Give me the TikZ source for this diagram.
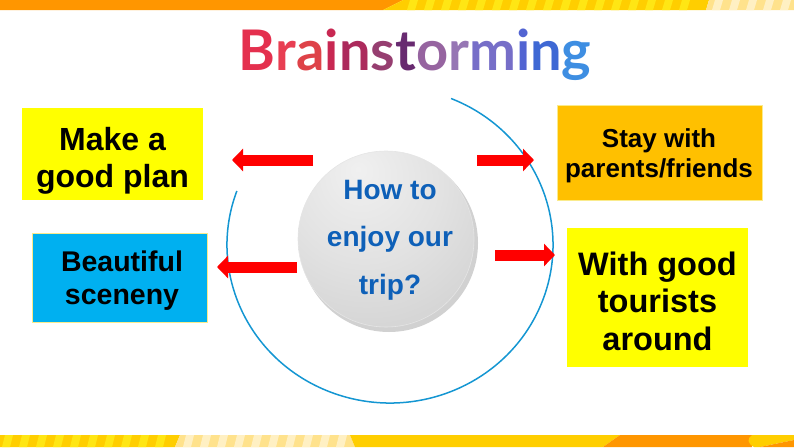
\documentclass[tikz,border=0pt]{standalone}
\usepackage{fontspec}
\setmainfont{Liberation Sans}
\newfontfamily\titlefont{Lato}
\usetikzlibrary{arrows.meta}
\definecolor{orgbar}{RGB}{255,150,0}
\definecolor{ylwbar}{RGB}{255,206,0}
\definecolor{ylwlt}{RGB}{255,230,20}
\definecolor{palebar}{RGB}{255,226,140}
\definecolor{palelt}{RGB}{255,240,195}
\definecolor{ringblue}{RGB}{20,150,210}
\definecolor{hubblue}{RGB}{14,96,184}
\definecolor{boxyellow}{RGB}{255,255,0}
\definecolor{boxblue}{RGB}{0,176,240}
\definecolor{boxorange}{RGB}{255,192,0}
\definecolor{boxedge}{RGB}{250,235,140}
\definecolor{arrred}{RGB}{255,0,0}
\definecolor{sphA}{RGB}{240,240,240}
\definecolor{sphB}{RGB}{226,226,226}
\definecolor{sphC}{RGB}{200,200,200}
\definecolor{sphD}{RGB}{172,172,172}
\definecolor{tA}{RGB}{228,48,78}
\definecolor{tB}{RGB}{232,62,82}
\definecolor{tC}{RGB}{222,66,72}
\definecolor{tD}{RGB}{200,40,82}
\definecolor{tE}{RGB}{172,42,92}
\definecolor{tF}{RGB}{150,62,112}
\definecolor{tG}{RGB}{104,42,112}
\definecolor{tH}{RGB}{150,100,160}
\definecolor{tI}{RGB}{150,118,180}
\definecolor{tJ}{RGB}{118,110,200}
\definecolor{tK}{RGB}{82,100,210}
\definecolor{tL}{RGB}{62,104,212}
\definecolor{tM}{RGB}{62,142,226}
\pgfdeclareradialshading{sphere}{\pgfpoint{-8bp}{20bp}}{color(0bp)=(sphA); color(22bp)=(sphB); color(55bp)=(sphC); color(72bp)=(sphD); color(100bp)=(sphD)}
\tikzset{
  boxnode/.style={rectangle, inner sep=0pt},
  boxtext/.style={align=center, anchor=base, inner sep=0pt},
  redarrow/.style={draw=arrred, line width=11pt, -{Triangle[length=11pt,width=22pt]}},
  ring/.style={draw=ringblue, line width=1.5pt},
}
\begin{document}
\begin{tikzpicture}[x=1pt,y=-1pt]
\useasboundingbox (0,0) rectangle (794,447);
% top bar
\fill[orgbar] (0,0) -- (403,0) -- (383,10) -- (0,10) -- cycle;
\fill[ylwbar] (403,0) -- (709,0) -- (706,10) -- (383,10) -- cycle;
\foreach \s in {410,427,...,695} {\fill[ylwlt] (\s,0) -- (\s+8,0) -- (\s+5,10) -- (\s-3,10) -- cycle;}
\fill[palebar] (709,0) -- (794,0) -- (794,10) -- (706,10) -- cycle;
\foreach \s in {715,732,...,790} {\fill[palelt] (\s,0) -- (\s+8,0) -- (\s+5,10) -- (\s-3,10) -- cycle;}
% bottom bar
\fill[ylwbar] (0,435) -- (180,435) -- (175,447) -- (0,447) -- cycle;
\foreach \s in {5,22,...,165} {\fill[ylwlt] (\s,435) -- (\s+8,435) -- (\s+5,447) -- (\s-3,447) -- cycle;}
\fill[palebar] (180,435) -- (350,435) -- (355,447) -- (175,447) -- cycle;
\foreach \s in {186,203,...,340} {\fill[palelt] (\s,435) -- (\s+8,435) -- (\s+5,447) -- (\s-3,447) -- cycle;}
\fill[ylwbar] (350,435) -- (620,435) -- (603,447) -- (355,447) -- cycle;
\fill[orgbar] (620,435) -- (752,435) -- (752,447) -- (603,447) -- cycle;
\fill[ylwbar] (752,435) -- (794,435) -- (794,440) -- (760,447) -- (754,447) .. controls (747,443) and (747,439) .. (752,435) -- cycle;
\fill[orgbar] (794,440) -- (794,447) -- (760,447) -- cycle;
% title
\node[anchor=base, inner sep=0pt, font=\titlefont\bfseries\fontsize{56}{60}\selectfont] (title) at (415,70)
  {\textcolor{tA}{B}\textcolor{tB}{r}\textcolor{tC}{a}\textcolor{tD}{i}\textcolor{tE}{n}\textcolor{tF}{s}\textcolor{tG}{t}\textcolor{tH}{o}\textcolor{tI}{r}\textcolor{tJ}{m}\textcolor{tK}{i}\textcolor{tL}{n}\textcolor{tM}{g}};
% ring
\coordinate (rc) at (390,245);
\draw[ring] (rc) ++(160:163pt and 158pt) arc[start angle=160, end angle=428, x radius=163pt, y radius=158pt];
% hub sphere
\fill[black, opacity=0.18] (389,243) circle[radius=89pt];
\node[circle, minimum size=176pt, inner sep=0pt, shading=sphere, draw=white!80!gray, line width=0.6pt] (hub) at (386,239) {};
\node[boxtext, text=hubblue, font=\bfseries\fontsize{28}{47.5}\selectfont] (hubtext) at (390,294) {How to\\enjoy our\\trip?};
% boxes
\node[boxnode, fill=boxyellow, minimum width=181pt, minimum height=92pt] (plan) at (112.5,154) {};
\node[boxtext, font=\bfseries\fontsize{32}{37}\selectfont] (plantext) at (112.5,187) {Make a\\good plan};
\node[boxnode, fill=boxblue, draw=boxedge, line width=0.8pt, minimum width=175pt, minimum height=89pt] (scene) at (119.5,277.5) {};
\node[boxtext, font=\bfseries\fontsize{28.5}{33}\selectfont] (scenetext) at (122,304) {Beautiful\\sceneny};
\node[boxnode, fill=boxorange, draw=boxedge, line width=0.8pt, minimum width=205pt, minimum height=95pt] (stay) at (659.5,152.5) {};
\node[boxtext, font=\bfseries\fontsize{26}{30}\selectfont] (staytext) at (659,177) {Stay with\\parents/friends};
\node[boxnode, fill=boxyellow, minimum width=181pt, minimum height=139pt] (tour) at (657.5,297.5) {};
\node[boxtext, font=\bfseries\fontsize{32.5}{37.5}\selectfont] (tourtext) at (657.5,350) {With good\\tourists\\around};
% arrows
\coordinate (a1s) at (313,160); \coordinate (a1e) at (232,160);
\coordinate (a2s) at (297,267); \coordinate (a2e) at (217,267);
\coordinate (a3s) at (477,160); \coordinate (a3e) at (534,160);
\coordinate (a4s) at (495,255); \coordinate (a4e) at (555,255);
\draw[redarrow] (a1s) -- (a1e);
\draw[redarrow] (a2s) -- (a2e);
\draw[redarrow] (a3s) -- (a3e);
\draw[redarrow] (a4s) -- (a4e);
\end{tikzpicture}
\end{document}
